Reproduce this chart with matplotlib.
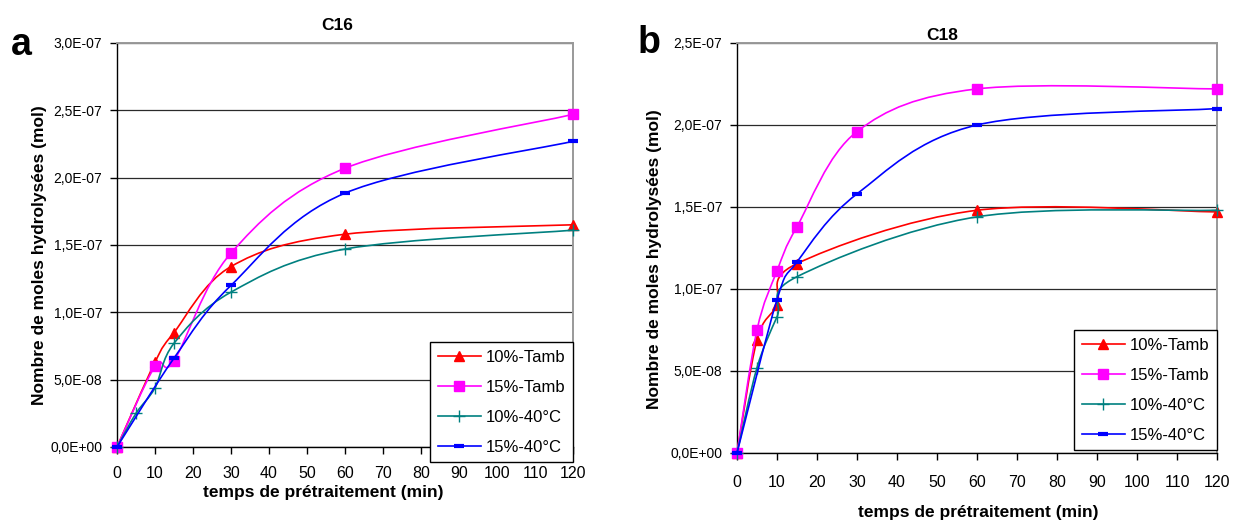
import matplotlib
matplotlib.use("Agg")
import matplotlib.pyplot as plt
from matplotlib.path import Path
from matplotlib.patches import PathPatch
from matplotlib.lines import Line2D
from matplotlib.ticker import FuncFormatter, MultipleLocator
import numpy as np

plt.rcParams['font.family'] = ['Liberation Sans', 'DejaVu Sans']

# ---------------- data ----------------
series_labels = ["10%-Tamb", "15%-Tamb", "10%-40°C", "15%-40°C"]

# C16 (panel a)
c16_x_10amb = [0, 10, 15, 30, 60, 120]
c16_y_10amb = [0, 6.3e-8, 8.5e-8, 1.34e-7, 1.58e-7, 1.65e-7]
c16_x_15amb = [0, 10, 15, 30, 60, 120]
c16_y_15amb = [0, 6.0e-8, 6.4e-8, 1.44e-7, 2.07e-7, 2.47e-7]
c16_x_10c40 = [0, 5, 10, 15, 30, 60, 120]
c16_y_10c40 = [0, 2.5e-8, 4.4e-8, 7.7e-8, 1.15e-7, 1.47e-7, 1.61e-7]
c16_x_15c40 = [0, 15, 30, 60, 120]
c16_y_15c40 = [0, 6.6e-8, 1.20e-7, 1.885e-7, 2.27e-7]

# C18 (panel b)
c18_x_10amb = [0, 5, 10, 15, 60, 120]
c18_y_10amb = [0, 6.9e-8, 9.0e-8, 1.155e-7, 1.48e-7, 1.47e-7]
c18_x_15amb = [0, 5, 10, 15, 30, 60, 120]
c18_y_15amb = [0, 7.5e-8, 1.11e-7, 1.38e-7, 1.96e-7, 2.22e-7, 2.22e-7]
c18_x_10c40 = [0, 5, 10, 15, 60, 120]
c18_y_10c40 = [0, 5.2e-8, 8.3e-8, 1.075e-7, 1.44e-7, 1.48e-7]
c18_x_15c40 = [0, 10, 15, 30, 60, 120]
c18_y_15c40 = [0, 9.35e-8, 1.165e-7, 1.58e-7, 2.0e-7, 2.10e-7]

x_ticks = list(range(0, 121, 10))

# ---------------- styles ----------------
styles = [
    dict(color="#FF0000", marker="^", ms=7.5, mew=1.0),
    dict(color="#FF00FF", marker="s", ms=6.5, mew=1.0),
    dict(color="#008080", marker="+", ms=9, mew=1.0),
    dict(color="#0000FF", marker="_", ms=7, mew=3.0),
]


def smooth_path(x, y):
    """Excel-like smoothed line as cubic Bezier segments through the points."""
    p = np.column_stack([x, y]).astype(float)
    n = len(p)
    verts = [p[0]]
    codes = [Path.MOVETO]
    for i in range(n - 1):
        p0 = p[i - 1] if i > 0 else p[i]
        p1 = p[i]
        p2 = p[i + 1]
        p3 = p[i + 2] if i + 2 < n else p[i + 1]
        c1 = p1 + (p2 - p0) / 6.0
        c2 = p2 - (p3 - p1) / 6.0
        verts += [c1, c2, p2]
        codes += [Path.CURVE4] * 3
    return Path(verts, codes)


def sci_fmt(v, pos):
    return f"{v:.1E}".replace(".", ",")


W, H = 1234, 521
fig = plt.figure(figsize=(W / 100, H / 100), dpi=100)


def make_panel(rect, data, ymax, title, title_x, title_y, letter, letter_xy,
               xlabel_y, ylabel_x, ylabel_y, legend_box, xpad):
    l, t, r, b = rect
    ax = fig.add_axes([l / W, 1 - b / H, (r - l) / W, (b - t) / H])
    for k, (xs, ys) in enumerate(data):
        st = styles[k]
        patch = PathPatch(smooth_path(xs, ys), facecolor="none",
                          edgecolor=st["color"], lw=1.2, zorder=3 + k,
                          transform=ax.transData, clip_on=False)
        ax.add_patch(patch)
        ax.plot(xs, ys, linestyle="none", marker=st["marker"], ms=st["ms"],
                mew=st["mew"], color=st["color"], mec=st["color"],
                zorder=3.5 + k, clip_on=False)
    ax.set_xlim(0, 120)
    ax.set_ylim(0, ymax)
    ax.set_xticks(x_ticks)
    ax.yaxis.set_major_locator(MultipleLocator(5e-8))
    ax.yaxis.set_major_formatter(FuncFormatter(sci_fmt))
    ax.grid(axis="y", color="#2a2a2a", lw=0.9, zorder=1)
    ax.set_axisbelow(True)
    for s in ("top", "right"):
        ax.spines[s].set_color("#999999")
        ax.spines[s].set_linewidth(1.4)
    for s in ("left", "bottom"):
        ax.spines[s].set_color("black")
        ax.spines[s].set_linewidth(1.0)
    ax.tick_params(axis="y", direction="out", length=5, width=1,
                   labelsize=10, pad=5.5)
    ax.tick_params(axis="x", direction="out", length=5, width=1,
                   labelsize=11.5, pad=xpad)
    ax.text(title_x, title_y, title, transform=fig.transFigure,
            ha="center", va="center", fontsize=12.5, fontweight="bold")
    fig.text(letter_xy[0] / W, 1 - letter_xy[1] / H, letter,
             ha="center", va="center", fontsize=27, fontweight="bold")
    fig.text(((l + r) / 2 + (xlabel_y[1])) / W, 1 - xlabel_y[0] / H,
             "temps de prétraitement (min)", ha="center", va="center",
             fontsize=12.5, fontweight="bold")
    fig.text(ylabel_x / W, 1 - ylabel_y / H,
             "Nombre de moles hydrolysées (mol)", rotation=90,
             ha="center", va="center", fontsize=12.5, fontweight="bold")
    handles = [Line2D([], [], color=st["color"], lw=1.2, marker=st["marker"],
                      ms=st["ms"], mew=st["mew"], mec=st["color"])
               for st in styles]
    lx0, ly0, lx1, ly1 = legend_box
    leg = ax.legend(handles, series_labels, loc="lower right",
                    bbox_to_anchor=(lx1 / W, 1 - ly1 / H),
                    bbox_transform=fig.transFigure, borderaxespad=0,
                    fontsize=12, frameon=True, fancybox=False,
                    edgecolor="black", framealpha=1, handlelength=2.6,
                    handletextpad=0.3, labelspacing=0.9, borderpad=0.45,
                    numpoints=1)
    leg.get_frame().set_linewidth(1.0)
    leg.set_zorder(20)
    return ax


make_panel((117, 43, 573, 447),
           [(c16_x_10amb, c16_y_10amb), (c16_x_15amb, c16_y_15amb),
            (c16_x_10c40, c16_y_10c40), (c16_x_15c40, c16_y_15c40)],
           3.0e-7, "C16", 337 / W, 1 - 25 / H, "a", (21, 45),
           (493, -22), 40, 255, (432, 342, 573, 462), 9)

make_panel((737, 43, 1217, 453),
           [(c18_x_10amb, c18_y_10amb), (c18_x_15amb, c18_y_15amb),
            (c18_x_10c40, c18_y_10c40), (c18_x_15c40, c18_y_15c40)],
           2.5e-7, "C18", 942 / W, 1 - 35 / H, "b", (649, 43),
           (512, 1), 654, 259, (1070, 333, 1217, 450), 11)

fig.savefig("out.png", dpi=100)
